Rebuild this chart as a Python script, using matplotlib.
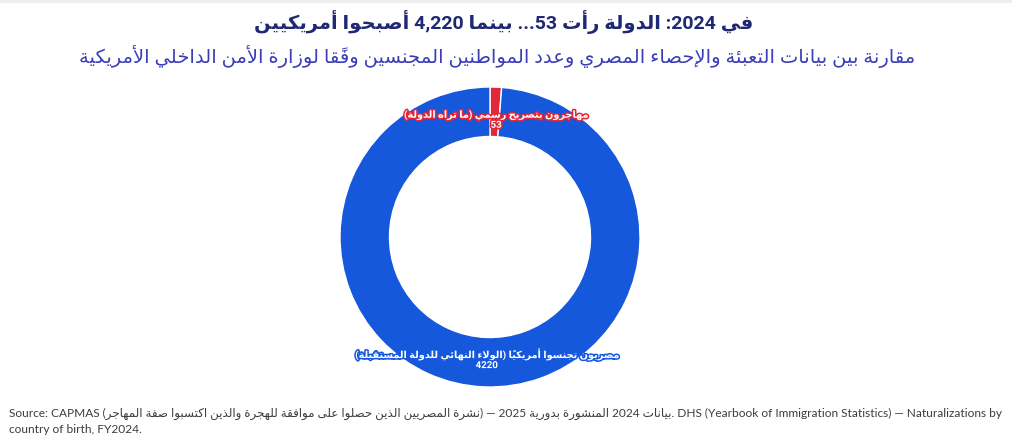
import re
import math
import matplotlib
matplotlib.use('Agg')
import matplotlib.pyplot as plt
import matplotlib.patheffects as pe

# ---- data
title = 'في 2024: الدولة رأت 53... بينما 4,220 أصبحوا أمريكيين'
subtitle = 'مقارنة بين بيانات التعبئة والإحصاء المصري وعدد المواطنين المجنسين وفقًا لوزارة الأمن الداخلي الأمريكية'
slice_labels = ['مهاجرون بتصريح رسمي (ما تراه الدولة)',
                'مصريون تجنسوا أمريكياً (الولاء النهائي للدولة المستقبلة)']
values = [53, 4220]
colors = ['#e0283a', '#1558dc']
source_ar1 = 'نشرة المصريين الذين حصلوا على موافقة للهجرة والذين اكتسبوا صفة المهاجر'
source_ar2 = 'بيانات 2024 المنشورة بدورية 2025'

# ---- tiny arabic shaping (no reshaper lib here)
seq = [('\u0621', 1), ('\u0622', 2), ('\u0623', 2), ('\u0624', 2), ('\u0625', 2),
       ('\u0626', 4), ('\u0627', 2), ('\u0628', 4), ('\u0629', 2), ('\u062A', 4),
       ('\u062B', 4), ('\u062C', 4), ('\u062D', 4), ('\u062E', 4), ('\u062F', 2),
       ('\u0630', 2), ('\u0631', 2), ('\u0632', 2), ('\u0633', 4), ('\u0634', 4),
       ('\u0635', 4), ('\u0636', 4), ('\u0637', 4), ('\u0638', 4), ('\u0639', 4),
       ('\u063A', 4), ('\u0641', 4), ('\u0642', 4), ('\u0643', 4), ('\u0644', 4),
       ('\u0645', 4), ('\u0646', 4), ('\u0647', 4), ('\u0648', 2), ('\u0649', 2),
       ('\u064A', 4)]
FORMS = {}
code = 0xFE80
for ch, n in seq:
    FORMS[ch] = [chr(code + k) for k in range(n)]
    code += n
LAMALEF = {'\u0622': 0xFEF5, '\u0623': 0xFEF7, '\u0625': 0xFEF9, '\u0627': 0xFEFB}
for a, c in LAMALEF.items():
    FORMS[chr(c)] = [chr(c), chr(c + 1)]
MARKS = set(chr(c) for c in range(0x064B, 0x0653)) | {'\u0670'}
MIRROR = {'(': ')', ')': '('}


def shape(s):
    for a, c in LAMALEF.items():
        s = s.replace('\u0644' + a, chr(c))
    out = []
    for i, c in enumerate(s):
        if c not in FORMS:
            out.append(c)
            continue
        j = i - 1
        while j >= 0 and s[j] in MARKS:
            j -= 1
        k = i + 1
        while k < len(s) and s[k] in MARKS:
            k += 1
        f = FORMS[c]
        prev_join = j >= 0 and s[j] in FORMS and len(FORMS[s[j]]) == 4
        next_join = len(f) == 4 and k < len(s) and s[k] in FORMS and s[k] != '\u0621'
        if len(f) == 1:
            out.append(f[0])
        elif prev_join and next_join:
            out.append(f[3])
        elif prev_join:
            out.append(f[1])
        elif next_join:
            out.append(f[2])
        else:
            out.append(f[0])
    return ''.join(out)


def vis(s):
    # rtl line -> visual order, latin/number runs kept as they are
    s = shape(s)
    toks = []
    i = 0
    while i < len(s):
        m = re.match(r'[0-9A-Za-z]+(?:[.,][0-9]+)*', s[i:])
        if m:
            toks.append(m.group(0))
            i += len(m.group(0))
            continue
        t = MIRROR.get(s[i], s[i])
        i += 1
        while i < len(s) and s[i] in MARKS:
            t += s[i]
            i += 1
        toks.append(t)
    return ''.join(toks[::-1])


fig = plt.figure(figsize=(10.24, 4.46), dpi=100)
fig.patch.set_facecolor('white')
fig.add_artist(plt.Rectangle((0, 0.993), 0.988, 0.007, transform=fig.transFigure,
                             color='#eceef1', lw=0))

fig.text(0.492, 0.950, vis(title), ha='center', va='center', fontsize=14,
         fontweight='bold', color='#1f2872', family=['Roboto', 'DejaVu Sans'])
fig.text(0.485, 0.874, vis(subtitle), ha='center', va='center', fontsize=14,
         color='#3b3db8', family=['Roboto', 'DejaVu Sans'])

# donut
ax = fig.add_axes([(490 - 150) / 1024, (209 - 150) / 446, 300 / 1024, 300 / 446])
ring = 0.33
ax.pie(values, colors=colors, startangle=90, counterclock=False, radius=1,
       wedgeprops=dict(width=ring, edgecolor='white', linewidth=1))
ax.set_xlim(-1, 1)
ax.set_ylim(-1, 1)
ax.set_aspect('equal')
ax.axis('off')

tot = float(sum(values))
cum = 0
for lab, v, col in zip(slice_labels, values, colors):
    mid = cum + v / tot / 2
    cum += v / tot
    ang = math.radians(90 - 360 * mid)
    r = 0.8
    ax.text(r * math.cos(ang) + 0.01, r * math.sin(ang) - 0.015, vis(lab) + '\n' + str(v),
            ha='center', va='center', fontsize=7, fontweight='bold', color='white',
            linespacing=0.9, family=['Roboto', 'DejaVu Sans'],
            path_effects=[pe.withStroke(linewidth=2.2, foreground=col)])

foot = ('Source: CAPMAS (' + vis(source_ar1) + ') \u2014 ' + vis(source_ar2) +
        '. DHS (Yearbook of Immigration Statistics) \u2014 Naturalizations by\n'
        'country of birth, FY2024.')
fig.text(0.009, 0.055, foot, ha='left', va='center', fontsize=8.6, color='#3c3c3c',
         linespacing=1.5, family=['Lato', 'DejaVu Sans'])

fig.savefig('out.png', dpi=100)
